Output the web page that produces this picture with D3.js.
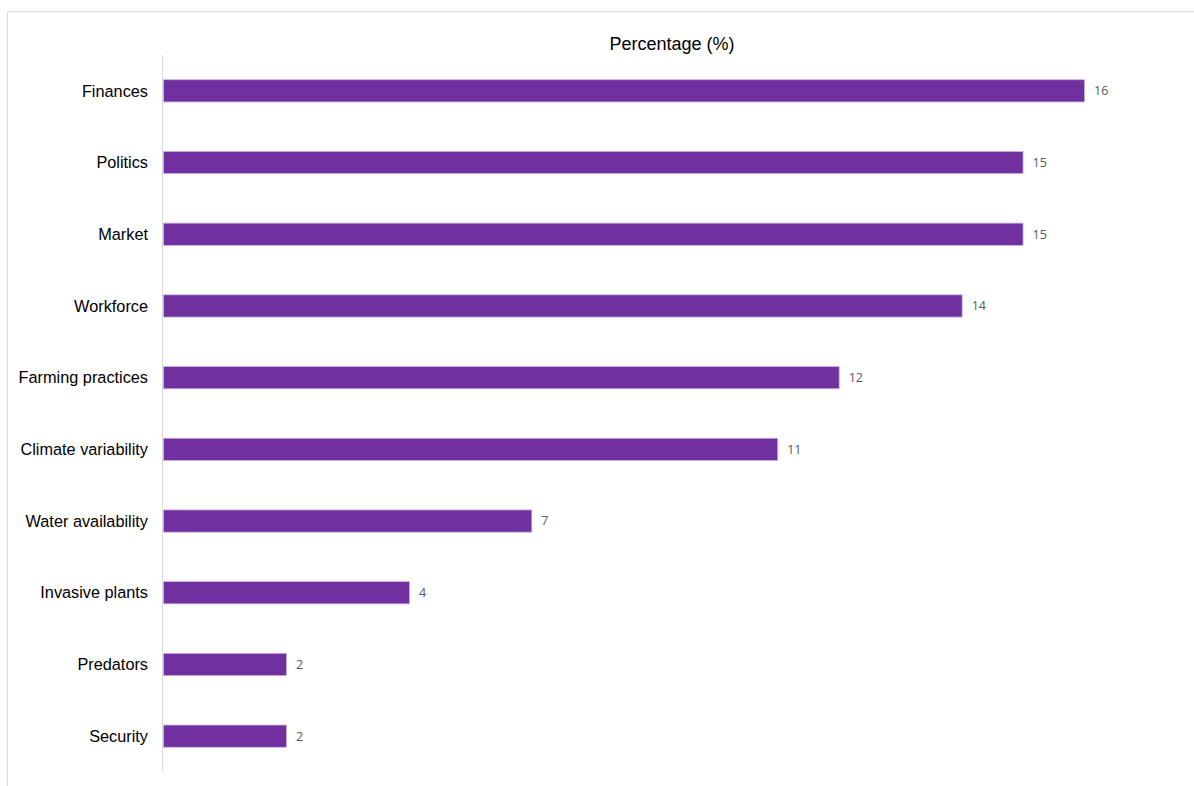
<!DOCTYPE html>
<html lang="en">
<head>
<meta charset="UTF-8">
<script src="https://d3js.org/d3.v7.min.js"></script>
<style>
    body, html { margin: 0; width: 100%; height: 100%; overflow: hidden; background: #fff; }
    .cat { font-family: "Liberation Sans", Arial, sans-serif; font-size: 16.3px; fill: #000; }
    .val { font-family: "Open Sans", sans-serif; font-size: 12.5px; fill: #595959; }
    .title { font-family: "Liberation Sans", Arial, sans-serif; font-size: 18px; fill: #000; }
</style>
</head>
<body>
<div id="chart"></div>
<script>
    const categories = ["Finances", "Politics", "Market", "Workforce", "Farming practices",
        "Climate variability", "Water availability", "Invasive plants", "Predators", "Security"];
    const percentages = [16.48, 15.38, 15.38, 14.29, 12.09, 10.99, 6.59, 4.40, 2.20, 2.20];
    const chartTitle = "Percentage (%)";

    const W = 1194, H = 786;
    const margin = {top: 55, right: 24, bottom: 15, left: 163};

    const svg = d3.select("#chart").append("svg")
        .attr("width", W).attr("height", H);

    // frame (only top and left edges show)
    svg.append("line").attr("x1", 7.5).attr("x2", W).attr("y1", 11.5).attr("y2", 11.5)
        .attr("stroke", "#d9d9d9");
    svg.append("line").attr("x1", 7.5).attr("x2", 7.5).attr("y1", 11.5).attr("y2", H)
        .attr("stroke", "#d9d9d9");

    const g = svg.append("g").attr("transform", `translate(${margin.left},${margin.top})`);

    const x = d3.scaleLinear().domain([0, 18]).range([0, 1006]);
    const y = d3.scaleBand().domain(categories).range([0, 717]).paddingInner(0.69).paddingOuter(0.345);

    svg.append("text").attr("class", "title")
        .attr("x", 672).attr("y", 50).attr("text-anchor", "middle")
        .text(chartTitle);

    g.selectAll(".bar")
        .data(categories)
        .enter().append("rect")
        .attr("class", "bar")
        .attr("x", 0.5)
        .attr("y", d => y(d))
        .attr("width", (d, i) => x(percentages[i]))
        .attr("height", y.bandwidth())
        .attr("fill", "#7030a0")
        .attr("stroke", "#c9b3dd")
        .attr("stroke-width", 0.8);

    // vertical axis line
    g.append("line").attr("x1", -0.5).attr("x2", -0.5).attr("y1", 0).attr("y2", 716)
        .attr("stroke", "#d9d9d9");

    g.selectAll(".cat")
        .data(categories)
        .enter().append("text")
        .attr("class", "cat")
        .attr("x", -15)
        .attr("y", d => y(d) + y.bandwidth() / 2)
        .attr("dy", "0.35em")
        .attr("text-anchor", "end")
        .text(d => d);

    g.selectAll(".val")
        .data(categories)
        .enter().append("text")
        .attr("class", "val")
        .attr("x", (d, i) => x(percentages[i]) + 10)
        .attr("y", d => y(d) + y.bandwidth() / 2)
        .attr("dy", "0.35em")
        .text((d, i) => Math.round(percentages[i]));
</script>
</body>
</html>
